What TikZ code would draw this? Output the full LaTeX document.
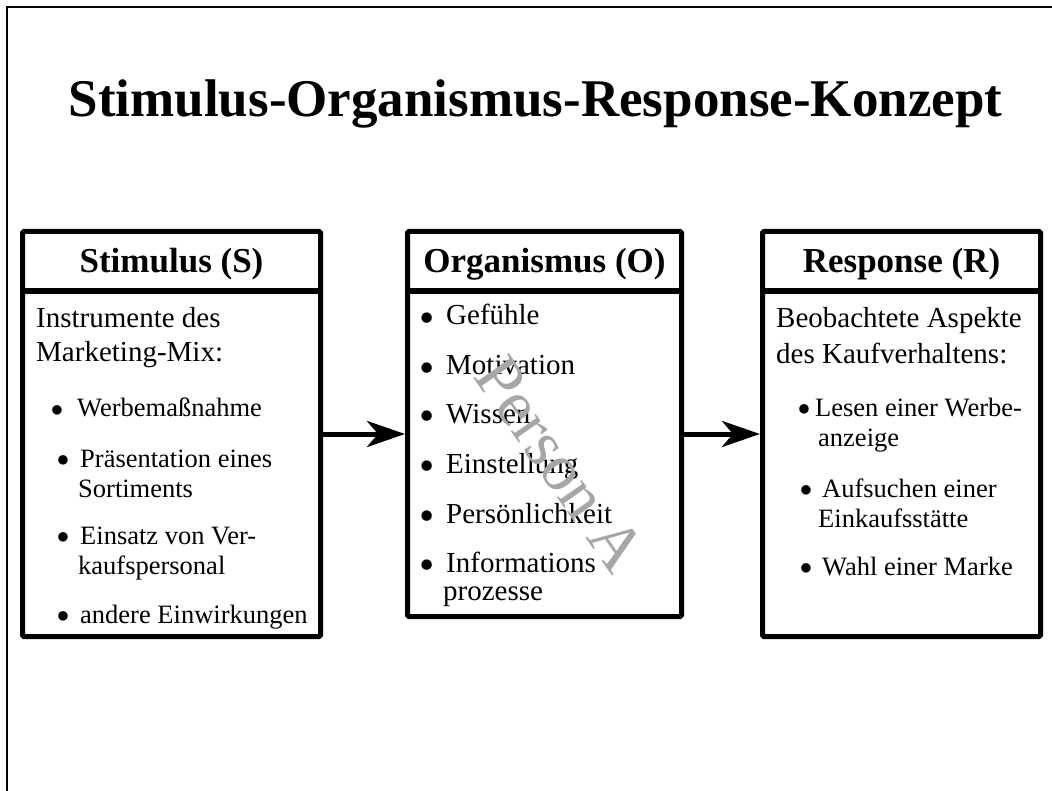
\documentclass[tikz,border=0pt]{standalone}
\usepackage{fontspec}
\usepackage{graphicx}
\setmainfont{Liberation Serif}
\usetikzlibrary{arrows.meta}
% a slightly enlarged bullet, kept at mid x-height
\newcommand\bulletmark{\raisebox{-0.26em}{\scalebox{1.5}{•}}}
\begin{document}
\begin{tikzpicture}[x=1pt,y=-1pt,
  panel/.style 2 args={draw, line width=5pt, rounded corners=1.5pt, inner sep=0pt,
    minimum width=#1pt, minimum height=#2pt},
  divider/.style={line width=5.5pt},
  heading/.style={anchor=base, font=\fontsize{35}{40}\bfseries\selectfont},
  intro/.style={anchor=base west, inner sep=0pt, font=\fontsize{29}{34}\selectfont},
  item/.style={anchor=base west, inner sep=0pt, font=\fontsize{26.5}{30}\selectfont},
  bigitem/.style={anchor=base west, inner sep=0pt, font=\fontsize{29}{34}\selectfont},
  flow/.style={line width=5pt, -{Stealth[length=38pt, width=26pt, inset=11pt]}}]
\useasboundingbox (0,0) rectangle (1052,791);

% page frame (top and left edges only)
\draw[line width=2.5pt] (7,791) -- (7,7) -- (1052,7);

% title
\node[anchor=base, font=\fontsize{53}{60}\bfseries\selectfont] (title) at (535.5,117)
  {Stimulus-Organismus-Response-Konzept};

% the three panels
\node[panel={298}{405}] (S) at (171.5,434) {};
\node[panel={274}{385}] (O) at (544.5,424) {};
\node[panel={278}{405}] (R) at (901.5,434) {};

\draw[divider] (S.west |- 0,291) -- (S.east |- 0,291);
\draw[divider] (O.west |- 0,291) -- (O.east |- 0,291);
\draw[divider] (R.west |- 0,291) -- (R.east |- 0,291);

\node[heading] (hS) at (171.5,273) {Stimulus (S)};
\node[heading] (hO) at (544.5,273) {Organismus (O)};
\node[heading] (hR) at (901.5,273) {Response (R)};

% Stimulus contents
\node[intro] (s1) at (36,328) {Instrumente des};
\node[intro] (s2) at (36,362) {Marketing-Mix:};
\node[item] (s3) at (50,417) {\makebox[27pt][l]{\bulletmark}Werbemaßnahme};
\node[item] (s4) at (56,467) {\makebox[24pt][l]{\bulletmark}Präsentation eines};
\node[item] (s5) at (78,497) {Sortiments};
\node[item] (s6) at (56,544) {\makebox[24pt][l]{\bulletmark}Einsatz von Ver-};
\node[item] (s7) at (78,574) {kaufspersonal};
\node[item] (s8) at (56,623) {\makebox[24pt][l]{\bulletmark}andere Einwirkungen};

% Organismus contents
\node[bigitem] (o1) at (419,325) {\makebox[27pt][l]{\bulletmark}Gefühle};
\node[bigitem] (o2) at (419,375) {\makebox[27pt][l]{\bulletmark}Motivation};
\node[bigitem] (o3) at (419,423) {\makebox[27pt][l]{\bulletmark}Wissen};
\node[bigitem] (o4) at (419,473) {\makebox[27pt][l]{\bulletmark}Einstellung};
\node[bigitem] (o5) at (419,523) {\makebox[27pt][l]{\bulletmark}Persönlichkeit};
\node[bigitem] (o6) at (419,572) {\makebox[27pt][l]{\bulletmark}Informations};
\node[bigitem] (o7) at (443,600) {prozesse};

% Response contents
\node[intro] (r1) at (776,328) {Beobachtete Aspekte};
\node[intro] (r2) at (776,363) {des Kaufverhaltens:};
\node[item] (r3) at (797,416) {\makebox[18pt][l]{\bulletmark}Lesen einer Werbe-};
\node[item] (r4) at (818,446) {anzeige};
\node[item] (r5) at (799,497) {\makebox[23pt][l]{\bulletmark}Aufsuchen einer};
\node[item] (r6) at (818,527) {Einkaufsstätte};
\node[item] (r7) at (799,575) {\makebox[23pt][l]{\bulletmark}Wahl einer Marke};

% watermark
\node[rotate=-55, text=black!35, font=\fontsize{66}{66}\selectfont] (wm) at (560,464) {Person A};

% connectors
\draw[flow] (S.east) -- (O.west |- S.east);
\draw[flow] (O.east |- R.west) -- (R.west);
\end{tikzpicture}
\end{document}
